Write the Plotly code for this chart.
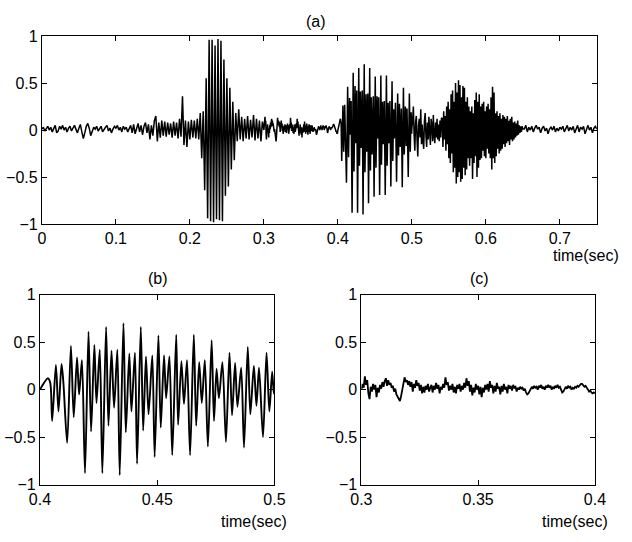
import numpy as np
import plotly.graph_objects as go

# ---------------- data ----------------
# panel (a) samples before 0.3 s, step 2 ms, t = 0.000 ... 0.298
DT_A = 0.002
a_pre = [
    0.01, 0.03, -0.01, 0.02, 0.04, 0.00, 0.03, -0.02, 0.02, 0.05,
    -0.03, -0.01, 0.04, 0.01, 0.05, 0.00, 0.03, -0.02, 0.02, 0.04,
    -0.01, 0.03, 0.05, 0.01, -0.03, 0.02, 0.06, -0.02, -0.09, -0.03,
    0.04, 0.07, 0.02, -0.06, -0.02, 0.03, 0.01, 0.04, -0.01, 0.02,
    0.04, -0.02, 0.01, 0.03, 0.05, -0.01, 0.02, -0.03, 0.01, 0.04,
    0.02, 0.05, 0.00, 0.03, -0.02, 0.04, 0.01, 0.03, -0.02, 0.02,
    0.05, -0.03, 0.06, -0.04, 0.03, 0.07, -0.02, 0.05, -0.05, 0.04,
    0.08, -0.03, 0.06, -0.10, 0.05, -0.06, 0.10, 0.15, -0.12, 0.08,
    -0.08, 0.10, -0.06, 0.09, -0.07, 0.08, -0.05, 0.07, -0.08, 0.09,
    -0.06, 0.08, -0.09, 0.12, -0.07, 0.36, -0.16, 0.10, -0.18, 0.09,
    -0.10, 0.11, -0.08, 0.10, -0.09, 0.12, -0.10, 0.18, -0.30, 0.20,
    -0.64, 0.55, -0.94, 0.96, -0.97, 0.96, -0.98, 0.90, -0.95, 0.97,
    -0.96, 0.95, -0.97, 0.75, -0.70, 0.55, -0.60, 0.45, -0.42, 0.30,
    -0.32, 0.18, -0.12, 0.22, -0.10, 0.14, -0.12, 0.12, -0.09, 0.15,
    -0.10, 0.11, -0.08, 0.16, -0.11, 0.12, -0.09, 0.10, -0.12, 0.09,
]
# panel (a) dense segment after 0.5 s, step 1 ms, t = 0.501 ... 0.650
DT_MID = 0.001
A_MID_START = 0.501
a_mid = [
    0.10, 0.25, -0.05, -0.22, 0.08, 0.15, -0.10, -0.28, 0.05, 0.12,
    -0.08, 0.22, -0.15, 0.06, -0.12, -0.20, 0.10, 0.18, -0.06, -0.18,
    0.08, -0.10, 0.14, -0.04, -0.16, 0.12, 0.05, -0.12, 0.16, -0.06,
    -0.14, 0.08, -0.08, 0.12, -0.10, 0.06, -0.12, 0.10, -0.08, 0.13,
    0.12, -0.18, 0.20, -0.10, 0.15, -0.22, 0.25, -0.15, 0.30, -0.30,
    0.22, -0.35, 0.38, -0.25, 0.42, -0.45, 0.30, -0.40, 0.50, -0.57,
    0.40, -0.50, 0.53, -0.45, 0.48, -0.55, 0.35, -0.52, 0.47, -0.40,
    0.45, -0.48, 0.30, -0.42, 0.35, -0.30, 0.25, -0.38, 0.20, -0.30,
    0.25, -0.52, 0.18, -0.35, 0.32, -0.28, 0.40, -0.50, 0.30, -0.40,
    0.38, -0.32, 0.25, -0.30, 0.28, -0.22, 0.30, -0.28, 0.20, -0.30,
    0.25, -0.20, 0.28, -0.25, 0.22, -0.30, 0.35, -0.42, 0.46, -0.30,
    0.40, -0.35, 0.18, -0.28, 0.20, -0.20, 0.15, -0.25, 0.18, -0.22,
    0.12, -0.20, 0.16, -0.15, 0.14, -0.18, 0.12, -0.14, 0.15, -0.12,
    0.10, -0.16, 0.12, -0.10, 0.14, -0.12, 0.08, -0.10, 0.09, -0.08,
    0.07, -0.06, 0.10, -0.05, 0.05, -0.03, 0.04, -0.02, 0.04, 0.01,
]
# panel (a) quiet tail, step 2 ms, t = 0.652 ... 0.750
A_POST_START = 0.652
a_post = [
    0.01, 0.05, -0.02, 0.03, 0.00, 0.04, -0.02, 0.02, 0.05, 0.01,
    0.03, -0.03, 0.02, 0.04, -0.01, 0.02, -0.04, 0.01, 0.03, 0.00,
    0.04, -0.02, 0.02, -0.01, 0.03, 0.01, 0.04, -0.02, 0.02, 0.05,
    -0.01, 0.03, 0.00, 0.04, -0.03, 0.02, 0.05, -0.02, 0.03, 0.01,
    0.04, -0.04, 0.02, 0.05, 0.00, 0.03, -0.03, 0.02, 0.04, 0.01,
]
# panel (b): extrema of the voiced segment, time offset (ms after 0.4 s) and value
b_ms = [
    0, 3.4, 4.4, 5.2, 6.8, 7.9, 9.2, 10.0, 11.6, 13.2,
    14.4, 15.8, 16.7, 17.9, 19.2, 20.7, 21.8, 23.2, 24.1, 25.5,
    26.6, 28.2, 29.2, 30.5, 31.6, 33.0, 34.0, 35.6, 36.6, 38.1,
    39.0, 40.5, 41.4, 43.0, 44.0, 45.2, 46.3, 47.9, 48.9, 50.5,
    51.5, 52.9, 53.8, 55.2, 56.4, 58.1, 58.9, 60.3, 61.4, 62.7,
    64.0, 65.6, 66.6, 67.9, 69.0, 70.3, 71.6, 73.2, 74.2, 75.3,
    76.3, 77.8, 79.3, 80.8, 81.9, 83.2, 84.2, 85.8, 87.0, 88.6,
    89.7, 91.2, 92.3, 93.4, 95.1, 96.6, 97.8, 99.0, 99.7, 100.0,
]
b_vals = [
    0.00, 0.12, 0.07, -0.33, 0.26, -0.23, 0.27, 0.07, -0.56, 0.46,
    -0.29, 0.34, -0.05, 0.31, -0.88, 0.61, -0.44, 0.47, -0.14, 0.42,
    -0.88, 0.66, -0.38, 0.41, -0.19, 0.42, -0.90, 0.70, -0.45, 0.38,
    -0.23, 0.39, -0.78, 0.66, -0.43, 0.35, -0.26, 0.36, -0.71, 0.57,
    -0.40, 0.36, -0.09, 0.35, -0.69, 0.58, -0.37, 0.30, -0.15, 0.31,
    -0.69, 0.58, -0.38, 0.29, -0.14, 0.31, -0.60, 0.52, -0.33, 0.22,
    -0.09, 0.29, -0.55, 0.39, -0.27, 0.28, -0.18, 0.23, -0.61, 0.45,
    -0.26, 0.25, -0.17, 0.23, -0.50, 0.39, -0.23, 0.19, -0.04, 0.02,
]
# panel (c): unvoiced segment 0.3-0.4 s, step 0.5 ms
DT_C = 0.0005
C_START = 0.3
c_vals = [
    0.00, 0.06, 0.02, 0.14, 0.05, 0.10, -0.04, -0.10, 0.03, -0.02,
    0.06, 0.00, 0.05, -0.08, 0.02, -0.03, 0.05, 0.01, 0.08, 0.03,
    0.09, 0.12, 0.04, 0.10, 0.05, 0.07, 0.02, 0.04, -0.02, 0.01,
    -0.05, -0.08, -0.10, -0.12, -0.07, 0.02, 0.06, 0.13, 0.08, 0.10,
    0.05, 0.09, 0.03, 0.08, -0.02, 0.06, 0.02, 0.10, 0.04, 0.07,
    -0.01, 0.05, -0.04, 0.03, -0.03, 0.04, 0.00, 0.06, -0.02, 0.02,
    0.05, -0.03, 0.04, 0.00, 0.07, 0.01, 0.05, -0.04, 0.03, 0.00,
    0.06, 0.02, 0.13, 0.05, 0.08, -0.01, 0.04, 0.00, 0.06, -0.03,
    0.03, -0.04, 0.05, 0.01, 0.06, -0.02, 0.04, 0.00, 0.07, 0.02,
    0.12, 0.04, 0.09, -0.02, 0.05, -0.06, 0.02, -0.03, 0.06, 0.00,
    0.04, -0.05, 0.03, -0.08, 0.02, -0.03, 0.05, 0.00, 0.06, -0.02,
    0.09, 0.02, 0.05, -0.04, 0.04, -0.02, 0.07, 0.01, 0.03, -0.05,
    0.04, -0.02, 0.06, 0.00, 0.03, -0.04, 0.05, 0.01, 0.04, -0.01,
    0.05, 0.02, 0.03, -0.02, 0.02, 0.00, 0.03, 0.01, 0.02, -0.01,
    0.01, -0.03, -0.05, -0.04, -0.02, 0.01, 0.03, 0.01, 0.04, 0.02,
    0.03, 0.00, 0.04, 0.02, 0.05, 0.01, 0.03, 0.00, 0.04, 0.02,
    0.05, 0.02, 0.04, 0.00, 0.03, 0.01, 0.04, 0.02, 0.05, 0.02,
    0.03, 0.00, -0.03, -0.02, 0.01, 0.03, 0.01, 0.04, 0.02, 0.03,
    0.00, 0.02, 0.01, 0.03, 0.02, 0.04, 0.03, 0.05, 0.06, 0.06,
    0.05, 0.03, 0.04, 0.01, 0.00, -0.02, -0.01, -0.03, -0.04, -0.03,
    -0.04,
]

y_ticks = [-1, -0.5, 0, 0.5, 1]
y_ticktext = ["\u22121", "\u22120.5", "0", "0.5", "1"]
a_xticks = [0, 0.1, 0.2, 0.3, 0.4, 0.5, 0.6, 0.7]
b_xticks = [0.4, 0.45, 0.5]
c_xticks = [0.3, 0.35, 0.4]

# ---------------- build series ----------------
t_pre = np.arange(len(a_pre)) * DT_A
t_mid = A_MID_START + np.arange(len(a_mid)) * DT_MID
t_post = A_POST_START + np.arange(len(a_post)) * DT_A
t_c = C_START + np.arange(len(c_vals)) * DT_C
t_b = 0.4 + np.array(b_ms) / 1000.0

a_t = np.concatenate([t_pre, t_c[:-1], t_b, t_mid, t_post])
a_v = np.concatenate([a_pre, c_vals[:-1], b_vals, a_mid, a_post])

W, H = 632, 542
FONT = "Arial, 'Liberation Sans', Helvetica, sans-serif"
FS = 16

fig = go.Figure()
fig.add_trace(go.Scatter(x=a_t, y=a_v, mode="lines",
                         line=dict(color="black", width=1.5), xaxis="x", yaxis="y",
                         showlegend=False, hoverinfo="skip"))
fig.add_trace(go.Scatter(x=t_b, y=b_vals, mode="lines",
                         line=dict(color="black", width=1.9, shape="spline", smoothing=0.8),
                         xaxis="x2", yaxis="y2", showlegend=False, hoverinfo="skip"))
fig.add_trace(go.Scatter(x=t_c, y=c_vals, mode="lines",
                         line=dict(color="black", width=1.8),
                         xaxis="x3", yaxis="y3", showlegend=False, hoverinfo="skip"))

def px_x(p):
    return p / W

def px_y(p):
    return 1 - p / H

common = dict(showline=True, linecolor="black", linewidth=1, mirror="ticks",
              ticks="inside", ticklen=5, tickcolor="black", showgrid=False,
              zeroline=False, tickfont=dict(family=FONT, size=FS, color="black"))

fig.update_layout(
    width=W, height=H, margin=dict(l=0, r=0, t=0, b=0),
    paper_bgcolor="white", plot_bgcolor="white",
    font=dict(family=FONT, size=FS, color="black"),
    xaxis=dict(domain=[px_x(32), px_x(607)], range=[0, 0.75], tickvals=a_xticks,
               ticktext=[f"{v:g}" for v in a_xticks], anchor="y", **common),
    yaxis=dict(domain=[px_y(223), px_y(29)], range=[-1, 1], tickvals=y_ticks,
               ticktext=y_ticktext, anchor="x", **common),
    xaxis2=dict(domain=[px_x(30), px_x(273)], range=[0.4, 0.5], tickvals=b_xticks,
                ticktext=[f"{v:g}" for v in b_xticks], anchor="y2", **common),
    yaxis2=dict(domain=[px_y(492), px_y(296)], range=[-1, 1], tickvals=y_ticks,
                ticktext=y_ticktext, anchor="x2", **common),
    xaxis3=dict(domain=[px_x(363), px_x(605)], range=[0.3, 0.4], tickvals=c_xticks,
                ticktext=[f"{v:g}" for v in c_xticks], anchor="y3", **common),
    yaxis3=dict(domain=[px_y(492), px_y(296)], range=[-1, 1], tickvals=y_ticks,
                ticktext=y_ticktext, anchor="x3", **common),
)

ann = [
    ("(a)", 316, 14, "center"),
    ("(b)", 152, 279, "center"),
    ("(c)", 485, 279, "center"),
    ("time(sec)", 632, 256, "right"),
    ("time(sec)", 288, 530, "right"),
    ("time(sec)", 621, 530, "right"),
]
for text, x, y, xa in ann:
    fig.add_annotation(text=text, x=px_x(x), y=px_y(y), xref="paper", yref="paper",
                       xanchor=xa, yanchor="middle", showarrow=False,
                       font=dict(family=FONT, size=FS, color="black"))

fig.write_html("out.html")
